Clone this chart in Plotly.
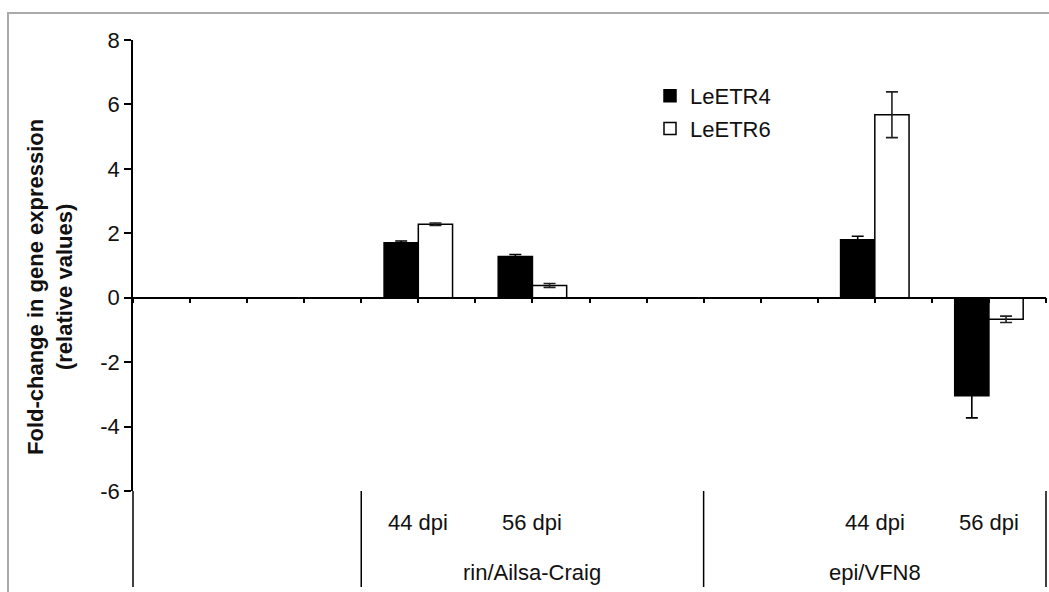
import plotly.graph_objects as go

# ---- data ----
time_labels = ["44 dpi", "56 dpi", "44 dpi", "56 dpi"]
genotypes = ["rin/Ailsa-Craig", "epi/VFN8"]
series_names = ["LeETR4", "LeETR6"]
leetr4 = [1.71, 1.28, 1.80, -3.04]
leetr4_err = [0.05, 0.06, 0.11, 0.69]
leetr6 = [2.28, 0.38, 5.68, -0.67]
leetr6_err = [0.04, 0.06, 0.71, 0.10]
y_ticks = [-6, -4, -2, 0, 2, 4, 6, 8]
y_tick_text = ["-6", "-4", "-2", "0", "2", "4", "6", "8"]

# ---- layout of the category axis (slot units) ----
N_SLOTS = 16
bar_slots = [5, 7, 13, 15]          # centre of each pair of bars
group_spans = [(0, 4), (4, 10), (10, 16)]
group_label_for_span = ["", genotypes[0], genotypes[1]]
BAR_W = 0.6

W, H = 1049, 592
L, R, T, B = 133, 3, 40, 101
plot_h = H - T - B
plot_w = W - L - R

def py(px):   # pixel y -> paper y
    return (H - B - px) / plot_h

def pxx(px):  # pixel x -> paper x
    return (px - L) / plot_w

FONT = "Liberation Sans, Arial, sans-serif"
FS = 22

fig = go.Figure()
fig.add_trace(go.Bar(
    name=series_names[0], x=bar_slots, y=leetr4, width=BAR_W, offset=-BAR_W,
    marker=dict(color="black", line=dict(color="black", width=1.5)),
    error_y=dict(type="data", array=leetr4_err, color="black", thickness=1.6, width=6),
    legendgroup="a",
))
fig.add_trace(go.Bar(
    name=series_names[1], x=bar_slots, y=leetr6, width=BAR_W, offset=0,
    marker=dict(color="white", line=dict(color="black", width=1.5)),
    error_y=dict(type="data", array=leetr6_err, color="#222", thickness=1.6, width=6),
    legendgroup="b",
))

shapes = []
# separators of the category label table
sep_positions = sorted({s for span in group_spans for s in span})
for s in sep_positions:
    shapes.append(dict(type="line", xref="paper", yref="paper",
                       x0=s / N_SLOTS, x1=s / N_SLOTS, y0=py(587), y1=0,
                       line=dict(color="black", width=1.5)))
# chart border (grey, cropped at right/bottom)
shapes.append(dict(type="rect", xref="paper", yref="paper",
                   x0=pxx(8), x1=1.2, y0=-0.6, y1=py(13),
                   line=dict(color="#aaaaaa", width=2), fillcolor="rgba(0,0,0,0)",
                   layer="below"))

annotations = []
for s, lab in zip(bar_slots, time_labels):
    annotations.append(dict(x=s, xref="x", y=py(522), yref="paper", text=lab,
                            showarrow=False, font=dict(size=FS, color="#111", family=FONT),
                            xanchor="center", yanchor="middle"))
for (a, b), lab in zip(group_spans, group_label_for_span):
    if lab:
        annotations.append(dict(x=(a + b) / 2, xref="x", y=py(572), yref="paper", text=lab,
                                showarrow=False, font=dict(size=FS, color="#111", family=FONT),
                                xanchor="center", yanchor="middle"))
annotations.append(dict(
    x=pxx(50), xref="paper", y=py(287), yref="paper",
    text="<b>Fold-change in gene expression<br>(relative values)</b>",
    textangle=-90, showarrow=False, font=dict(size=FS, color="#111", family=FONT),
    xanchor="center", yanchor="middle"))

fig.update_layout(
    width=W, height=H,
    margin=dict(l=L, r=R, t=T, b=B, pad=0),
    paper_bgcolor="white", plot_bgcolor="white",
    barmode="overlay",
    font=dict(family=FONT, color="#111"),
    showlegend=True,
    legend=dict(x=pxx(650), y=py(75), xanchor="left", yanchor="top",
                font=dict(size=FS, family=FONT, color="#111"),
                bgcolor="rgba(0,0,0,0)", tracegroupgap=1, itemwidth=30,
                traceorder="grouped"),
    shapes=shapes, annotations=annotations,
    xaxis=dict(range=[0, N_SLOTS], anchor="free", position=6 / 14,
               showline=True, linecolor="black", linewidth=1.5,
               ticks="outside", ticklen=5, tickwidth=1.5, tickcolor="black",
               tickmode="linear", tick0=0, dtick=1,
               showticklabels=False, showgrid=False, zeroline=False, fixedrange=True),
    yaxis=dict(range=[-6, 8], tickvals=y_ticks, ticktext=y_tick_text,
               showline=True, linecolor="black", linewidth=1.5,
               ticks="outside", ticklen=7, tickwidth=1.5, tickcolor="black",
               tickfont=dict(size=FS, family=FONT, color="#111"),
               ticklabelstandoff=0,
               showgrid=False, zeroline=False),
)

fig.write_html("out.html")
